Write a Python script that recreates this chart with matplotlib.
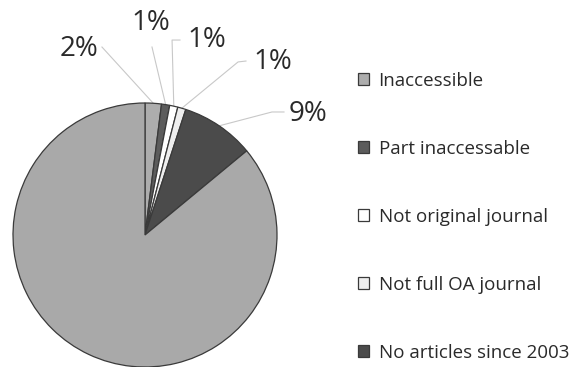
import numpy as np
import matplotlib.pyplot as plt

plt.rcParams['font.family'] = ['Open Sans', 'DejaVu Sans']

# journal status shares (%), clockwise from 12 o'clock
names = ['Inaccessible', 'Part inaccessable', 'Not original journal',
         'Not full OA journal', 'No articles since 2003', 'Accessible']
shares = [2, 1, 1, 1, 9, 86]
pct_labels = ['2%', '1%', '1%', '1%', '9%']
colors = ['#adadad', '#5c5c5c', '#ffffff', '#eeeeee', '#4b4b4b', '#a9a9a9']

# label placement (pie radius units): text centre and leader elbow points
label_pos = [(-0.5, 1.41), (0.045, 1.605), (0.465, 1.477), (0.97, 1.311), (1.235, 0.917)]
elbows = [
    [(-0.326, 1.424)],
    [(0.053, 1.424)],
    [(0.265, 1.477), (0.205, 1.477)],
    [(0.765, 1.318), (0.705, 1.311)],
    [(1.053, 0.932), (0.962, 0.932)],
]

W, H = 584, 367
fig = plt.figure(figsize=(W / 100, H / 100), dpi=100)
cx, cy, r = 145, 367 - 235, 132
ax = fig.add_axes([(cx - r) / W, (cy - r) / H, 2 * r / W, 2 * r / H])

wedges, _ = ax.pie(shares, colors=colors, startangle=90, counterclock=False,
                   wedgeprops=dict(edgecolor='#3a3a3a', linewidth=0.9))
ax.set_xlim(-1, 1)
ax.set_ylim(-1, 1)
ax.set_aspect('equal')
ax.axis('off')

# percentage labels with leader lines
for w, txt, pos, pts in zip(wedges, pct_labels, label_pos, elbows):
    mid = np.deg2rad((w.theta1 + w.theta2) / 2)
    start = (np.cos(mid), np.sin(mid))
    line = [start] + pts[::-1]
    xs, ys = zip(*line)
    ax.plot(xs, ys, color='#c8c8c8', lw=0.8, clip_on=False, zorder=0)
    ax.text(pos[0], pos[1], txt, ha='center', va='center', fontsize=20,
            color='#2a2a2a', clip_on=False)

leg = ax.legend(wedges[:5], names[:5], loc='upper left',
                bbox_to_anchor=(358 / W, 1 - 72 / H), bbox_transform=fig.transFigure,
                frameon=False, fontsize=13.5, handlelength=0.6, handleheight=0.6,
                handletextpad=0.5, labelspacing=2.66, borderpad=0, borderaxespad=0)
for t in leg.get_texts():
    t.set_color('#2a2a2a')

fig.savefig('out.png', dpi=100)
